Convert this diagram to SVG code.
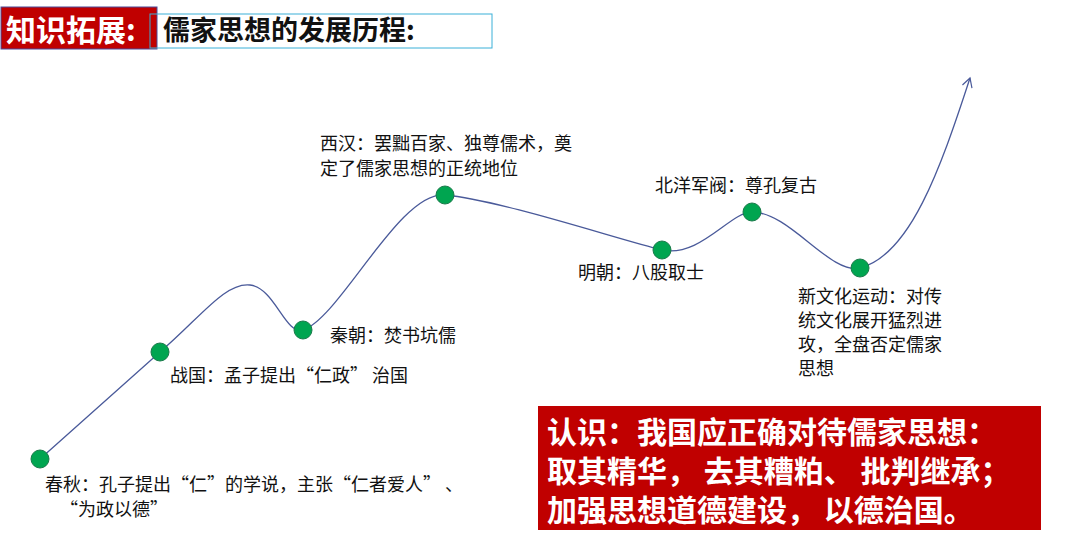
<svg xmlns="http://www.w3.org/2000/svg" width="1080" height="544" viewBox="0 0 1080 544">
<defs>
<marker id="ah" markerWidth="12" markerHeight="12" refX="10" refY="6" orient="auto" markerUnits="userSpaceOnUse"><path d="M1,1 L10,6 L1,11" fill="none" stroke="#4a5a9a" stroke-width="1.2"/></marker>
</defs>
<style>
text{font-family:"Noto Sans CJK SC","Liberation Sans",sans-serif;}
.lb{font-size:18px;fill:#111;}
.dot{fill:#00a550;stroke:#1a7a4a;stroke-width:1;}
.bw{font-size:30px;font-weight:bold;fill:#fff;}
</style>
<rect width="1080" height="544" fill="#fff"/>
<g id="title">
<rect x="1" y="7" width="156" height="42" fill="#c00000" stroke="#4a4a9a" stroke-width="1"/>
<text x="6" y="41" font-size="30" font-weight="bold" fill="#fff">知识拓展:</text>
<rect x="150" y="14" width="342" height="34" fill="none" stroke="#3ab0d8" stroke-width="1"/>
<text x="163" y="40" font-size="27" font-weight="bold" fill="#111">儒家思想的发展历程:</text>
</g>
<g id="connectors">
<path d="M40,459 L160,352 C200,318 225,282 250,285 C275,288 285,335 303,330 C340,318 400,190 445,195 C500,200 620,240 662,250 C700,258 730,212 752,212 C790,212 830,275 860,268 C910,255 940,170 970,78" fill="none" stroke="#4a5a9a" stroke-width="1.3" marker-end="url(#ah)"/>
</g>
<g id="n1"><circle class="dot" cx="40" cy="459" r="9"/><text class="lb" x="45" y="491">春秋：孔子提出“仁”的学说，主张“仁者爱人” 、</text><text class="lb" x="60" y="516">“为政以德”</text></g>
<g id="n2"><circle class="dot" cx="160" cy="352" r="9"/><text class="lb" x="170" y="382">战国：孟子提出“仁政” 治国</text></g>
<g id="n3"><circle class="dot" cx="303" cy="330" r="9"/><text class="lb" x="330" y="342">秦朝：焚书坑儒</text></g>
<g id="n4"><circle class="dot" cx="445" cy="195" r="9"/><text class="lb" x="320" y="150">西汉：罢黜百家、独尊儒术，奠</text><text class="lb" x="320" y="175">定了儒家思想的正统地位</text></g>
<g id="n5"><circle class="dot" cx="662" cy="250" r="9"/><text class="lb" x="578" y="279">明朝：八股取士</text></g>
<g id="n6"><circle class="dot" cx="752" cy="212" r="9"/><text class="lb" x="655" y="192">北洋军阀：尊孔复古</text></g>
<g id="n7"><circle class="dot" cx="860" cy="268" r="9"/><text class="lb" x="798" y="303">新文化运动：对传</text><text class="lb" x="798" y="327">统文化展开猛烈进</text><text class="lb" x="798" y="351">攻，全盘否定儒家</text><text class="lb" x="798" y="375">思想</text></g>
<g id="box">
<rect x="538" y="406" width="503" height="124" fill="#c00000"/>
<text class="bw" x="547" y="443">认识：我国应正确对待儒家思想：</text>
<text class="bw" x="547" y="482">取其精华， 去其糟粕、 批判继承；</text>
<text class="bw" x="547" y="521">加强思想道德建设， 以德治国。</text>
</g>
</svg>
